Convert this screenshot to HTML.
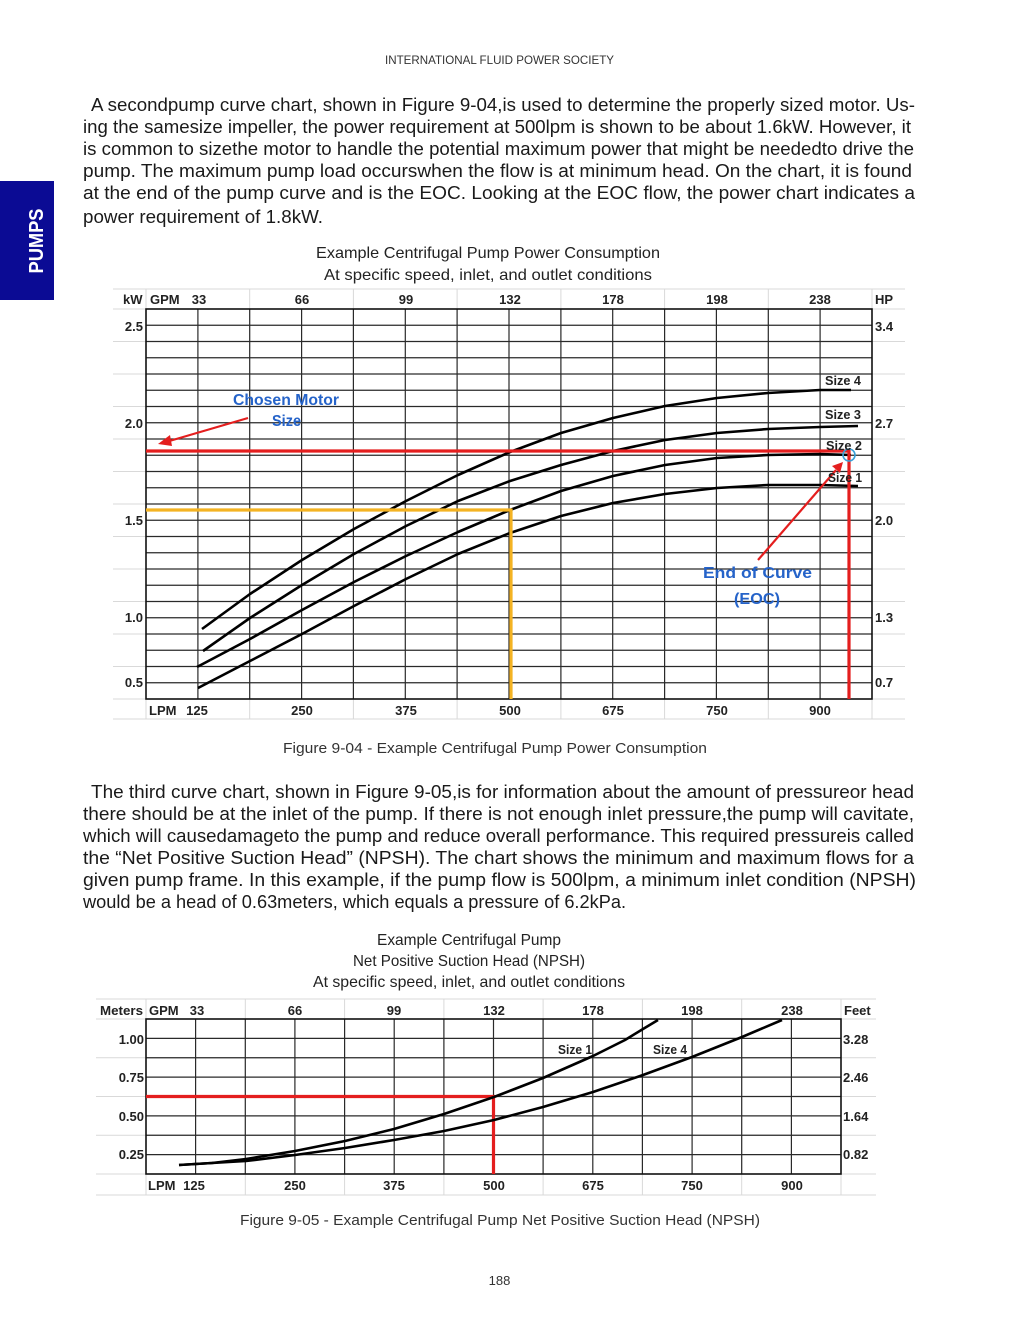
<!DOCTYPE html>
<html>
<head>
<meta charset="utf-8">
<style>
html,body{margin:0;padding:0;background:#fff;}
body{width:1024px;height:1325px;overflow:hidden;}
svg{display:block;}
.t{font-family:"Liberation Sans",Arial,sans-serif;}
.p{font-family:"Liberation Sans",Arial,sans-serif;font-size:18px;fill:#1a1a1a;}
.lb{font-family:"Liberation Sans",Arial,sans-serif;font-size:13px;font-weight:bold;fill:#222;}
.ttl{font-family:"Liberation Sans",Arial,sans-serif;font-size:16px;fill:#222;}
.cap{font-family:"Liberation Sans",Arial,sans-serif;font-size:15px;fill:#333;}
.blue{font-family:"Liberation Sans",Arial,sans-serif;font-size:16px;font-weight:bold;fill:#2563c9;}
</style>
</head>
<body>
<svg width="1024" height="1325" viewBox="0 0 1024 1325" xmlns="http://www.w3.org/2000/svg">
<rect x="0" y="0" width="1024" height="1325" fill="#fff"/>

<!-- Sidebar -->
<rect x="0" y="181" width="54" height="119" fill="#0b0b94"/>
<text class="t" x="0" y="0" transform="translate(43,241) rotate(-90)" text-anchor="middle" font-size="20" font-weight="bold" fill="#fff" textLength="65" lengthAdjust="spacingAndGlyphs">PUMPS</text>

<!-- Header -->
<text class="t" x="385" y="64" font-size="11.5" fill="#333" textLength="229" lengthAdjust="spacingAndGlyphs">INTERNATIONAL FLUID POWER SOCIETY</text>

<!-- Paragraph 1 -->
<text class="p" x="91" y="111" textLength="824" lengthAdjust="spacingAndGlyphs">A secondpump  curve chart, shown in Figure 9-04,is used to determine the properly  sized motor. Us-</text>
<text class="p" x="83" y="133" textLength="828" lengthAdjust="spacingAndGlyphs">ing the samesize impeller,  the power requirement at 500lpm  is shown to be about 1.6kW. However, it</text>
<text class="p" x="83" y="155" textLength="831" lengthAdjust="spacingAndGlyphs">is common to sizethe motor to handle the potential maximum power that might be neededto drive the</text>
<text class="p" x="83" y="177" textLength="829" lengthAdjust="spacingAndGlyphs">pump.  The maximum  pump  load  occurswhen  the flow  is at minimum  head. On the chart, it is found</text>
<text class="p" x="83" y="199" textLength="832" lengthAdjust="spacingAndGlyphs">at the end of the pump  curve and is the EOC. Looking  at the EOC flow,  the power chart indicates a</text>
<text class="p" x="83" y="223" textLength="240" lengthAdjust="spacingAndGlyphs">power requirement of 1.8kW.</text>

<!-- Chart 1 title -->
<text class="ttl" x="316" y="258" textLength="344" lengthAdjust="spacingAndGlyphs">Example Centrifugal Pump Power Consumption</text>
<text class="ttl" x="324" y="280" textLength="328" lengthAdjust="spacingAndGlyphs">At specific speed, inlet, and outlet conditions</text>

<!-- Chart 1 faint exterior lines -->
<g stroke="#d9d9d9" stroke-width="1" fill="none">
<line x1="113" y1="289" x2="905" y2="289"/>
<line x1="113" y1="309" x2="905" y2="309"/>
<line x1="113" y1="341.5" x2="905" y2="341.5"/>
<line x1="113" y1="374" x2="905" y2="374"/>
<line x1="113" y1="406.5" x2="905" y2="406.5"/>
<line x1="113" y1="439" x2="905" y2="439"/>
<line x1="113" y1="471.5" x2="905" y2="471.5"/>
<line x1="113" y1="504" x2="905" y2="504"/>
<line x1="113" y1="536.5" x2="905" y2="536.5"/>
<line x1="113" y1="569" x2="905" y2="569"/>
<line x1="113" y1="601.5" x2="905" y2="601.5"/>
<line x1="113" y1="634" x2="905" y2="634"/>
<line x1="113" y1="666.5" x2="905" y2="666.5"/>
<line x1="113" y1="699" x2="905" y2="699"/>
<line x1="113" y1="719" x2="905" y2="719"/>
<line x1="146" y1="289" x2="146" y2="719"/>
<line x1="249.7" y1="289" x2="249.7" y2="719"/>
<line x1="353.4" y1="289" x2="353.4" y2="719"/>
<line x1="457.1" y1="289" x2="457.1" y2="719"/>
<line x1="560.9" y1="289" x2="560.9" y2="719"/>
<line x1="664.6" y1="289" x2="664.6" y2="719"/>
<line x1="768.3" y1="289" x2="768.3" y2="719"/>
<line x1="872" y1="289" x2="872" y2="719"/>
</g>

<!-- Chart 1 grid -->
<g stroke="#2a2a2a" stroke-width="1.2" fill="none">
<line x1="146" y1="325.25" x2="872" y2="325.25"/>
<line x1="146" y1="341.5" x2="872" y2="341.5"/>
<line x1="146" y1="357.75" x2="872" y2="357.75"/>
<line x1="146" y1="374" x2="872" y2="374"/>
<line x1="146" y1="390.25" x2="872" y2="390.25"/>
<line x1="146" y1="406.5" x2="872" y2="406.5"/>
<line x1="146" y1="422.75" x2="872" y2="422.75"/>
<line x1="146" y1="439" x2="872" y2="439"/>
<line x1="146" y1="455.25" x2="872" y2="455.25"/>
<line x1="146" y1="471.5" x2="872" y2="471.5"/>
<line x1="146" y1="487.75" x2="872" y2="487.75"/>
<line x1="146" y1="504" x2="872" y2="504"/>
<line x1="146" y1="520.25" x2="872" y2="520.25"/>
<line x1="146" y1="536.5" x2="872" y2="536.5"/>
<line x1="146" y1="552.75" x2="872" y2="552.75"/>
<line x1="146" y1="569" x2="872" y2="569"/>
<line x1="146" y1="585.25" x2="872" y2="585.25"/>
<line x1="146" y1="601.5" x2="872" y2="601.5"/>
<line x1="146" y1="617.75" x2="872" y2="617.75"/>
<line x1="146" y1="634" x2="872" y2="634"/>
<line x1="146" y1="650.25" x2="872" y2="650.25"/>
<line x1="146" y1="666.5" x2="872" y2="666.5"/>
<line x1="146" y1="682.75" x2="872" y2="682.75"/>
<line x1="197.9" y1="309" x2="197.9" y2="699"/>
<line x1="249.7" y1="309" x2="249.7" y2="699"/>
<line x1="301.6" y1="309" x2="301.6" y2="699"/>
<line x1="353.4" y1="309" x2="353.4" y2="699"/>
<line x1="405.3" y1="309" x2="405.3" y2="699"/>
<line x1="457.1" y1="309" x2="457.1" y2="699"/>
<line x1="509" y1="309" x2="509" y2="699"/>
<line x1="560.9" y1="309" x2="560.9" y2="699"/>
<line x1="612.7" y1="309" x2="612.7" y2="699"/>
<line x1="664.6" y1="309" x2="664.6" y2="699"/>
<line x1="716.4" y1="309" x2="716.4" y2="699"/>
<line x1="768.3" y1="309" x2="768.3" y2="699"/>
<line x1="820.1" y1="309" x2="820.1" y2="699"/>
</g>
<rect x="146" y="309" width="726" height="390" fill="none" stroke="#111" stroke-width="1.6"/>

<!-- Chart 1 curves -->
<g stroke="#000" stroke-width="2.6" fill="none" stroke-linejoin="round" stroke-linecap="butt">
<polyline points="202,629 250,594 302,560 354,529 406,501 458,475 510,452 561,433 613,418 665,406 717,398 768,393 820,390 851,390"/>
<polyline points="203,651 250,618 302,585 354,554 406,526 458,501 510,481 561,465 613,451 665,440 717,433 768,429 820,427 858,426"/>
<polyline points="197,667 250,639 302,610 354,582 406,556 458,532 510,510 561,491 613,476 665,465 717,458 768,455 820,454 851,455"/>
<polyline points="198,688 250,661 302,634 354,606 406,579 458,554 510,533 561,516 613,503 665,494 717,488 768,485 820,485 858,486"/>
</g>

<!-- Yellow lines -->
<g stroke="#f4b323" stroke-width="3.2" fill="none">
<line x1="146" y1="510" x2="512" y2="510"/>
<line x1="511" y1="508.5" x2="511" y2="699"/>
</g>

<!-- Red lines -->
<g stroke="#e41e1e" stroke-width="3.2" fill="none">
<line x1="146" y1="451" x2="849" y2="451"/>
<line x1="849" y1="449.5" x2="849" y2="699"/>
<line x1="248" y1="418" x2="166" y2="442" stroke-width="2.2"/>
<line x1="758" y1="560" x2="836" y2="470" stroke-width="2.2"/>
</g>
<polygon points="158,444 170,435 172,446" fill="#e41e1e"/>
<polygon points="843,462 832,466 840,473" fill="#e41e1e"/>
<circle cx="849" cy="455" r="6" fill="none" stroke="#3aa0d8" stroke-width="1.6"/>

<!-- Chart 1 annotations -->
<text class="blue" x="233" y="405" textLength="106" lengthAdjust="spacingAndGlyphs">Chosen Motor</text>
<text class="blue" x="272" y="426" textLength="29" lengthAdjust="spacingAndGlyphs">Size</text>
<text class="blue" x="703" y="578" textLength="109" lengthAdjust="spacingAndGlyphs">End of Curve</text>
<text class="blue" x="734" y="604" textLength="46" lengthAdjust="spacingAndGlyphs">(EOC)</text>

<text class="lb" x="825" y="385" textLength="36" lengthAdjust="spacingAndGlyphs">Size 4</text>
<text class="lb" x="825" y="419" textLength="36" lengthAdjust="spacingAndGlyphs">Size 3</text>
<text class="lb" x="826" y="450" textLength="36" lengthAdjust="spacingAndGlyphs">Size 2</text>
<text class="lb" x="828" y="482" textLength="34" lengthAdjust="spacingAndGlyphs">Size 1</text>

<!-- Chart 1 axis labels -->
<text class="lb" x="123" y="304">kW</text>
<text class="lb" x="150" y="304">GPM</text>
<text class="lb" x="199" y="304" text-anchor="middle">33</text>
<text class="lb" x="302" y="304" text-anchor="middle">66</text>
<text class="lb" x="406" y="304" text-anchor="middle">99</text>
<text class="lb" x="510" y="304" text-anchor="middle">132</text>
<text class="lb" x="613" y="304" text-anchor="middle">178</text>
<text class="lb" x="717" y="304" text-anchor="middle">198</text>
<text class="lb" x="820" y="304" text-anchor="middle">238</text>
<text class="lb" x="875" y="304">HP</text>

<text class="lb" x="143" y="331" text-anchor="end">2.5</text>
<text class="lb" x="143" y="428" text-anchor="end">2.0</text>
<text class="lb" x="143" y="525" text-anchor="end">1.5</text>
<text class="lb" x="143" y="622" text-anchor="end">1.0</text>
<text class="lb" x="143" y="687" text-anchor="end">0.5</text>

<text class="lb" x="875" y="331">3.4</text>
<text class="lb" x="875" y="428">2.7</text>
<text class="lb" x="875" y="525">2.0</text>
<text class="lb" x="875" y="622">1.3</text>
<text class="lb" x="875" y="687">0.7</text>

<text class="lb" x="149" y="715">LPM</text>
<text class="lb" x="197" y="715" text-anchor="middle">125</text>
<text class="lb" x="302" y="715" text-anchor="middle">250</text>
<text class="lb" x="406" y="715" text-anchor="middle">375</text>
<text class="lb" x="510" y="715" text-anchor="middle">500</text>
<text class="lb" x="613" y="715" text-anchor="middle">675</text>
<text class="lb" x="717" y="715" text-anchor="middle">750</text>
<text class="lb" x="820" y="715" text-anchor="middle">900</text>

<!-- Caption 1 -->
<text class="cap" x="283" y="753" textLength="424" lengthAdjust="spacingAndGlyphs">Figure 9-04 - Example Centrifugal Pump Power Consumption</text>

<!-- Paragraph 2 -->
<text class="p" x="91" y="798" textLength="823" lengthAdjust="spacingAndGlyphs">The third  curve chart, shown in Figure 9-05,is for information  about the amount of pressureor head</text>
<text class="p" x="83" y="820" textLength="831" lengthAdjust="spacingAndGlyphs">there should be at the inlet of the pump.  If there is not enough inlet pressure,the pump  will  cavitate,</text>
<text class="p" x="83" y="842" textLength="831" lengthAdjust="spacingAndGlyphs">which  will  causedamageto the pump and reduce overall performance. This required pressureis called</text>
<text class="p" x="83" y="864" textLength="831" lengthAdjust="spacingAndGlyphs">the “Net  Positive Suction Head”  (NPSH). The chart shows the minimum  and maximum  flows  for a</text>
<text class="p" x="83" y="886" textLength="833" lengthAdjust="spacingAndGlyphs">given pump  frame. In this example, if the pump  flow  is 500lpm,  a minimum  inlet condition  (NPSH)</text>
<text class="p" x="83" y="908" textLength="543" lengthAdjust="spacingAndGlyphs">would  be a head of 0.63meters, which  equals a pressure of 6.2kPa.</text>

<!-- Chart 2 title -->
<text class="ttl" x="377" y="945" textLength="184" lengthAdjust="spacingAndGlyphs">Example Centrifugal Pump</text>
<text class="ttl" x="353" y="966" textLength="232" lengthAdjust="spacingAndGlyphs">Net Positive Suction Head (NPSH)</text>
<text class="ttl" x="313" y="987" textLength="312" lengthAdjust="spacingAndGlyphs">At specific speed, inlet, and outlet conditions</text>

<!-- Chart 2 faint exterior lines -->
<g stroke="#d9d9d9" stroke-width="1" fill="none">
<line x1="96" y1="999" x2="876" y2="999"/>
<line x1="96" y1="1019" x2="876" y2="1019"/>
<line x1="96" y1="1057.75" x2="876" y2="1057.75"/>
<line x1="96" y1="1096.5" x2="876" y2="1096.5"/>
<line x1="96" y1="1135.25" x2="876" y2="1135.25"/>
<line x1="96" y1="1174" x2="876" y2="1174"/>
<line x1="96" y1="1195" x2="876" y2="1195"/>
<line x1="146" y1="999" x2="146" y2="1195"/>
<line x1="245.3" y1="999" x2="245.3" y2="1195"/>
<line x1="344.6" y1="999" x2="344.6" y2="1195"/>
<line x1="443.9" y1="999" x2="443.9" y2="1195"/>
<line x1="543.1" y1="999" x2="543.1" y2="1195"/>
<line x1="642.4" y1="999" x2="642.4" y2="1195"/>
<line x1="741.7" y1="999" x2="741.7" y2="1195"/>
<line x1="841" y1="999" x2="841" y2="1195"/>
</g>

<!-- Chart 2 grid -->
<g stroke="#2a2a2a" stroke-width="1.2" fill="none">
<line x1="146" y1="1038.4" x2="841" y2="1038.4"/>
<line x1="146" y1="1057.75" x2="841" y2="1057.75"/>
<line x1="146" y1="1077.1" x2="841" y2="1077.1"/>
<line x1="146" y1="1096.5" x2="841" y2="1096.5"/>
<line x1="146" y1="1115.9" x2="841" y2="1115.9"/>
<line x1="146" y1="1135.25" x2="841" y2="1135.25"/>
<line x1="146" y1="1154.6" x2="841" y2="1154.6"/>
<line x1="195.6" y1="1019" x2="195.6" y2="1174"/>
<line x1="245.3" y1="1019" x2="245.3" y2="1174"/>
<line x1="294.9" y1="1019" x2="294.9" y2="1174"/>
<line x1="344.6" y1="1019" x2="344.6" y2="1174"/>
<line x1="394.2" y1="1019" x2="394.2" y2="1174"/>
<line x1="443.9" y1="1019" x2="443.9" y2="1174"/>
<line x1="493.5" y1="1019" x2="493.5" y2="1174"/>
<line x1="543.1" y1="1019" x2="543.1" y2="1174"/>
<line x1="592.8" y1="1019" x2="592.8" y2="1174"/>
<line x1="642.4" y1="1019" x2="642.4" y2="1174"/>
<line x1="692.1" y1="1019" x2="692.1" y2="1174"/>
<line x1="741.7" y1="1019" x2="741.7" y2="1174"/>
<line x1="791.4" y1="1019" x2="791.4" y2="1174"/>
</g>
<rect x="146" y="1019" width="695" height="155" fill="none" stroke="#111" stroke-width="1.6"/>

<!-- Chart 2 red -->
<g stroke="#e41e1e" stroke-width="3.2" fill="none">
<line x1="146" y1="1096.5" x2="495" y2="1096.5"/>
<line x1="493.5" y1="1095" x2="493.5" y2="1174"/>
</g>

<!-- Chart 2 curves -->
<g stroke="#000" stroke-width="2.6" fill="none" stroke-linejoin="round">
<polyline points="179,1165 212,1163 246,1159 295,1151 345,1141 394,1129 444,1114 494,1097 543,1078 593,1056 625,1040 643,1029 658,1020"/>
<polyline points="179,1165 212,1163 246,1161 295,1155 345,1148 394,1140 444,1131 494,1120 543,1107 593,1092 643,1075 692,1057 742,1037 782,1020"/>
</g>
<text class="lb" x="558" y="1054" textLength="34" lengthAdjust="spacingAndGlyphs">Size 1</text>
<text class="lb" x="653" y="1054" textLength="34" lengthAdjust="spacingAndGlyphs">Size 4</text>

<!-- Chart 2 labels -->
<text class="lb" x="100" y="1015" textLength="43" lengthAdjust="spacingAndGlyphs">Meters</text>
<text class="lb" x="149" y="1015">GPM</text>
<text class="lb" x="197" y="1015" text-anchor="middle">33</text>
<text class="lb" x="295" y="1015" text-anchor="middle">66</text>
<text class="lb" x="394" y="1015" text-anchor="middle">99</text>
<text class="lb" x="494" y="1015" text-anchor="middle">132</text>
<text class="lb" x="593" y="1015" text-anchor="middle">178</text>
<text class="lb" x="692" y="1015" text-anchor="middle">198</text>
<text class="lb" x="792" y="1015" text-anchor="middle">238</text>
<text class="lb" x="844" y="1015">Feet</text>

<text class="lb" x="144" y="1044" text-anchor="end">1.00</text>
<text class="lb" x="144" y="1082" text-anchor="end">0.75</text>
<text class="lb" x="144" y="1121" text-anchor="end">0.50</text>
<text class="lb" x="144" y="1159" text-anchor="end">0.25</text>

<text class="lb" x="843" y="1044">3.28</text>
<text class="lb" x="843" y="1082">2.46</text>
<text class="lb" x="843" y="1121">1.64</text>
<text class="lb" x="843" y="1159">0.82</text>

<text class="lb" x="148" y="1190">LPM</text>
<text class="lb" x="194" y="1190" text-anchor="middle">125</text>
<text class="lb" x="295" y="1190" text-anchor="middle">250</text>
<text class="lb" x="394" y="1190" text-anchor="middle">375</text>
<text class="lb" x="494" y="1190" text-anchor="middle">500</text>
<text class="lb" x="593" y="1190" text-anchor="middle">675</text>
<text class="lb" x="692" y="1190" text-anchor="middle">750</text>
<text class="lb" x="792" y="1190" text-anchor="middle">900</text>

<!-- Caption 2 -->
<text class="cap" x="240" y="1225" textLength="520" lengthAdjust="spacingAndGlyphs">Figure 9-05 - Example Centrifugal Pump Net Positive Suction Head (NPSH)</text>

<!-- Page number -->
<text class="t" x="499.5" y="1285" font-size="13" fill="#333" text-anchor="middle">188</text>
</svg>
</body>
</html>
